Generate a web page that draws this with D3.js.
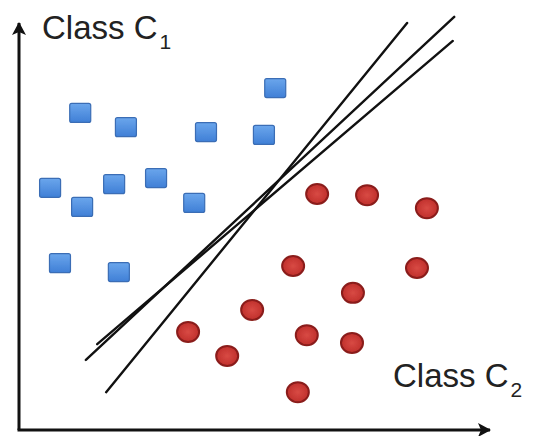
<!DOCTYPE html>
<html>
<head>
  <title>Class C1 vs Class C2</title>
  <style>
    body {
      background-color: white;
      margin: 0;
      padding: 0;
    }
    svg {
      display: block;
      font-family: "Liberation Sans", Arial, sans-serif;
    }
  </style>
</head>
<body>
  <div id="chart-container"></div>

  <script src="https://d3js.org/d3.v7.min.js"></script>
  <script>
    // Class C1 points (blue squares), in axis units 0..100
    const squaresX = [13.0, 22.7, 39.7, 54.4, 52.0, 6.6, 20.2, 29.1, 13.4, 37.2, 8.7, 21.2];
    const squaresY = [77.9, 74.4, 73.2, 84.0, 72.5, 59.5, 60.4, 61.9, 54.8, 55.8, 41.0, 38.8];

    // Class C2 points (red circles)
    const circlesX = [63.3, 73.9, 86.6, 58.2, 84.5, 70.9, 49.5, 35.9, 61.1, 70.7, 44.2, 59.2];
    const circlesY = [58.0, 57.7, 54.5, 40.3, 39.8, 33.7, 29.5, 24.1, 23.3, 21.4, 18.2, 9.3];

    // candidate separating lines: [x1, y1, x2, y2]
    const separators = [
      [82.4, 100.0, 18.5, 9.3],
      [92.4, 101.5, 14.2, 17.2],
      [92.1, 95.6, 16.6, 21.1]
    ];

    const labels = [
      { text: 'Class C', sub: '1' },
      { text: 'Class C', sub: '2' }
    ];

    const width = 536, height = 436;

    const svg = d3.select('#chart-container').append('svg')
      .attr('width', width)
      .attr('height', height);

    const x = d3.scaleLinear().domain([0, 100]).range([19, 490]);
    const y = d3.scaleLinear().domain([0, 100]).range([430, 23]);

    const defs = svg.append('defs');

    // arrow head for axes
    defs.append('marker')
      .attr('id', 'arrow')
      .attr('viewBox', '0 0 16 16')
      .attr('refX', 14)
      .attr('refY', 8)
      .attr('markerWidth', 16)
      .attr('markerHeight', 16)
      .attr('markerUnits', 'userSpaceOnUse')
      .attr('orient', 'auto')
      .append('path')
      .attr('d', 'M2,1 L15,8 L2,15 L5,8 Z')
      .attr('fill', '#111');

    const grad = defs.append('linearGradient')
      .attr('id', 'sq-grad')
      .attr('x1', 0).attr('y1', 0).attr('x2', 0).attr('y2', 1);
    grad.append('stop').attr('offset', '0%').attr('stop-color', '#6ba6ec');
    grad.append('stop').attr('offset', '100%').attr('stop-color', '#3f7fd6');

    const cgrad = defs.append('radialGradient')
      .attr('id', 'ci-grad');
    cgrad.append('stop').attr('offset', '0%').attr('stop-color', '#d84a44');
    cgrad.append('stop').attr('offset', '100%').attr('stop-color', '#c0302c');

    const blur = defs.append('filter').attr('id', 'soft')
      .attr('x', '-30%').attr('y', '-30%').attr('width', '160%').attr('height', '160%');
    blur.append('feGaussianBlur').attr('stdDeviation', 0.6);

    // axes
    svg.append('line')
      .attr('x1', x(0)).attr('y1', y(0))
      .attr('x2', x(0)).attr('y2', y(100))
      .attr('stroke', '#111')
      .attr('stroke-width', 3)
      .attr('marker-end', 'url(#arrow)');

    svg.append('line')
      .attr('x1', x(0) - 1.5).attr('y1', y(0))
      .attr('x2', x(100)).attr('y2', y(0))
      .attr('stroke', '#111')
      .attr('stroke-width', 3)
      .attr('marker-end', 'url(#arrow)');

    // squares
    const sqW = 21, sqH = 19;
    svg.selectAll('.square')
      .data(d3.range(squaresX.length))
      .enter()
      .append('rect')
      .attr('class', 'square')
      .attr('x', i => x(squaresX[i]) - sqW / 2)
      .attr('y', i => y(squaresY[i]) - sqH / 2)
      .attr('width', sqW)
      .attr('height', sqH)
      .attr('rx', 2)
      .attr('fill', 'url(#sq-grad)')
      .attr('stroke', '#3a6db5')
      .attr('stroke-width', 1.2)
      .attr('filter', 'url(#soft)');

    // circles
    svg.selectAll('.dot')
      .data(d3.range(circlesX.length))
      .enter()
      .append('ellipse')
      .attr('class', 'dot')
      .attr('cx', i => x(circlesX[i]))
      .attr('cy', i => y(circlesY[i]))
      .attr('rx', 11)
      .attr('ry', 10)
      .attr('fill', 'url(#ci-grad)')
      .attr('stroke', '#8a1d1a')
      .attr('stroke-width', 2)
      .attr('filter', 'url(#soft)');

    // separating lines
    svg.selectAll('.sep')
      .data(separators)
      .enter()
      .append('line')
      .attr('class', 'sep')
      .attr('x1', d => x(d[0]))
      .attr('y1', d => y(d[1]))
      .attr('x2', d => x(d[2]))
      .attr('y2', d => y(d[3]))
      .attr('stroke', '#111')
      .attr('stroke-width', 2.4)
      .attr('stroke-linecap', 'round');

    // class labels
    const labelPos = [[42, 39], [393, 387]];
    labels.forEach((l, i) => {
      const t = svg.append('text')
        .attr('x', labelPos[i][0])
        .attr('y', labelPos[i][1])
        .attr('font-size', 33)
        .attr('fill', '#222');
      t.append('tspan').text(l.text);
      t.append('tspan')
        .attr('font-size', 21)
        .attr('dy', 10)
        .attr('dx', 2)
        .text(l.sub);
    });
  </script>
</body>
</html>
